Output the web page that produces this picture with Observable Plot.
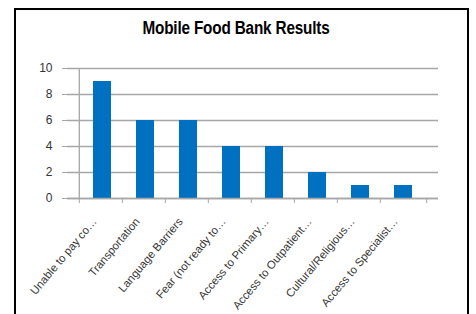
<!DOCTYPE html>
<html>
<head>
<meta charset="utf-8">
<script src="https://cdn.jsdelivr.net/npm/d3@7"></script>
<script src="https://cdn.jsdelivr.net/npm/@observablehq/plot@0.6"></script>
<style>
  body { margin: 0; background: #fff; }
  #wrap { position: relative; width: 476px; height: 314px; overflow: hidden; }
  #frame { position: absolute; left: 14px; top: 8px; width: 451px; height: 320px; border: 2px solid #000; box-sizing: content-box; }
  #title { position: absolute; left: 0; width: 472px; top: 18px; text-align: center;
           font-family: "Liberation Sans", sans-serif; font-weight: bold; font-size: 18px; color: #000;
           transform: scaleX(0.85); transform-origin: 236px 0; letter-spacing: -0.2px; }
  #chart { position: absolute; left: 0; top: 0; }
</style>
</head>
<body>
<div id="wrap">
  <div id="frame"></div>
  <div id="title">Mobile Food Bank Results</div>
  <div id="chart"></div>
</div>
<script>
const categories = [
  "Unable to pay co…",
  "Transportation",
  "Language Barriers",
  "Fear (not ready to…",
  "Access to Primary…",
  "Access to Outpatient…",
  "Cultural/Religious…",
  "Access to Specialist…"
];
const values = [9, 6, 6, 4, 4, 2, 1, 1];
const yTicks = [0, 2, 4, 6, 8, 10];

const data = categories.map((c, i) => ({category: c, value: values[i]}));

const W = 476, H = 314, mL = 67, mR = 38, mT = 68, mB = 116;
const step = (W - mL - mR) / categories.length;

const chart = Plot.plot({
  width: W,
  height: H,
  marginLeft: mL,
  marginRight: mR,
  marginTop: mT,
  marginBottom: mB,
  style: {fontFamily: "Liberation Sans, sans-serif", fontSize: "11px", color: "#333", background: "transparent"},
  x: {domain: categories, padding: 0.59, label: null},
  y: {domain: [0, 10], label: null},
  marks: [
    Plot.gridY(yTicks, {stroke: "#a6a6a6", strokeOpacity: 1, strokeWidth: 1.3}),
    Plot.axisY(yTicks, {tickSize: 5, tickPadding: 10, stroke: "#a6a6a6", fontSize: 12, fill: "#333", label: null}),
    Plot.barY(data, {x: "category", y: "value", fill: "#0070c0"}),
    Plot.ruleY([0], {stroke: "#a6a6a6", strokeWidth: 1.3}),
    Plot.ruleX([categories[0]], {dx: -step / 2, y1: 0, y2: 10, stroke: "#a6a6a6", strokeWidth: 1.3}),
    Plot.axisX({tickSize: 5, dx: -step / 2, stroke: "#a6a6a6", tickFormat: () => "", label: null}),
    Plot.axisX([categories[categories.length - 1]], {tickSize: 5, dx: step / 2, stroke: "#a6a6a6", tickFormat: () => "", label: null}),
    Plot.axisX({tickSize: 0, tickRotate: -50, tickPadding: 21, dx: -8, fontSize: 11.3, fill: "#333", label: null})
  ]
});
document.getElementById("chart").appendChild(chart);
</script>
</body>
</html>
